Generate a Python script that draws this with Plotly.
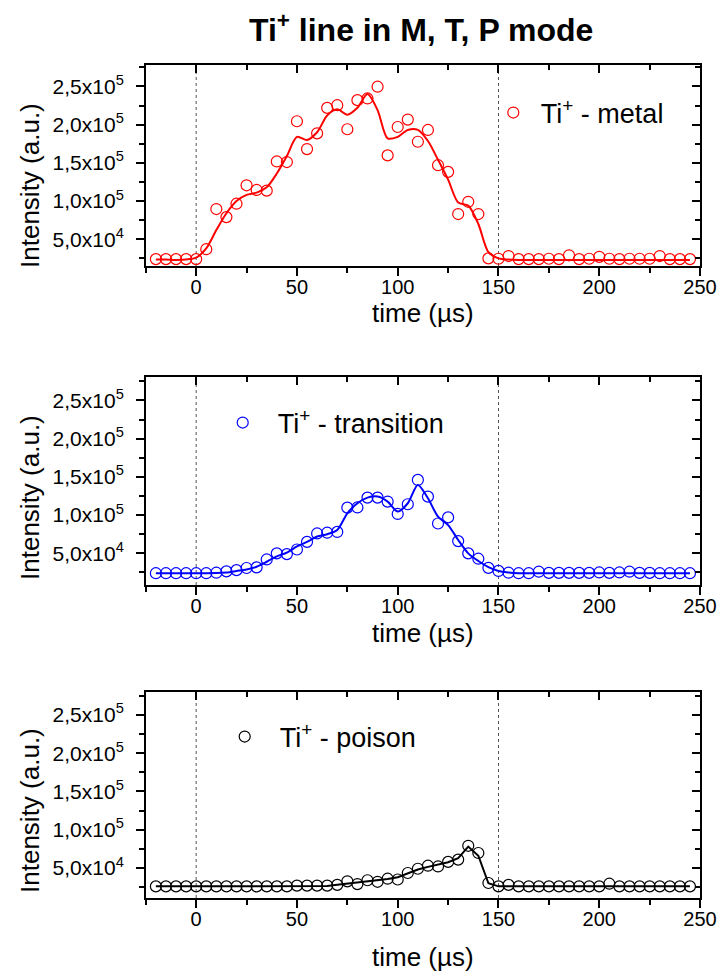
import plotly.graph_objects as go

# ---------------- data ----------------
time_us = [-20, -15, -10, -5, 0, 5, 10, 15, 20, 25, 30, 35, 40, 45, 50, 55, 60, 65, 70, 75,
           80, 85, 90, 95, 100, 105, 110, 115, 120, 125, 130, 135, 140, 145, 150, 155, 160,
           165, 170, 175, 180, 185, 190, 195, 200, 205, 210, 215, 220, 225, 230, 235, 240, 245]

metal = [24000, 24000, 24000, 24000, 24000, 37000, 89500, 79000, 96500, 120600,
         114500, 113600, 151800, 151000, 204400, 168000, 188600, 221900, 225400, 193900,
         232000, 234200, 249600, 159700, 196900, 206600, 177600, 193000, 146900, 138200,
         83000, 99000, 83000, 25000, 24500, 28000, 24000, 24000, 24000, 24500,
         24000, 29000, 24000, 24500, 27000, 24500, 24000, 24500, 24500, 24500,
         28000, 24000, 24000, 24000]
metal_fit = [23500, 23500, 23000, 23500, 26000, 38000, 62000, 84000, 100000, 108000,
             111000, 118000, 136000, 159000, 184000, 180000, 190000, 212000, 220000, 213000,
             222000, 240000, 219000, 182000, 184000, 193000, 193000, 178500, 154000, 128000,
             98000, 94000, 70000, 33000, 25000, 23500, 23000, 23000, 23000, 23000,
             23000, 23000, 23000, 23000, 23000, 23000, 23000, 23000, 23000, 23000,
             23000, 23000, 23000, 23000]

transition = [24000, 24000, 24000, 24000, 24000, 24000, 24700, 26400, 28000, 30800,
              31700, 42000, 50000, 49000, 55000, 65000, 76000, 77000, 78000, 109800,
              110000, 122900, 122900, 117700, 101500, 114200, 146000, 124200, 89000, 97000,
              66000, 50000, 43000, 31000, 27000, 24700, 24000, 24000, 26000, 24500,
              24500, 24500, 24500, 24500, 25000, 24500, 25000, 26000, 24500, 24500,
              24000, 24000, 24000, 24000]
transition_fit = [24000, 24000, 24000, 24000, 24000, 24000, 24200, 25000, 27000, 29000,
                  32500, 39000, 46000, 51000, 59000, 65000, 72000, 75000, 80500, 102400,
                  115500, 122900, 124200, 117700, 104600, 115500, 139500, 122000, 98000, 87000,
                  67500, 50000, 40000, 32000, 27000, 25000, 24000, 24000, 24000, 24000,
                  24000, 24000, 24000, 24000, 24000, 24000, 24000, 24000, 24000, 24000,
                  24000, 24000, 24000, 24000]

poison = [26000, 26000, 26000, 26000, 26000, 26000, 26000, 26000, 26000, 26000,
          26000, 26000, 26000, 26000, 27000, 27000, 27000, 27000, 28000, 32600,
          29000, 34000, 32000, 36000, 35000, 43500, 49000, 53000, 52000, 58000,
          61000, 79000, 69600, 30400, 26000, 28000, 26000, 26000, 26000, 26000,
          26000, 26000, 26000, 26000, 26000, 29500, 26000, 26000, 26000, 26000,
          26000, 26000, 26000, 26000]
poison_fit = [26000, 26000, 26000, 26000, 26000, 26000, 26000, 26000, 26000, 26000,
              26000, 26000, 26000, 26000, 26000, 26000, 26000, 26500, 28000, 29500,
              31000, 32500, 33500, 35500, 38000, 43000, 48000, 51500, 54000, 57500,
              63000, 78000, 66000, 30000, 26000, 26000, 26000, 26000, 26000, 26000,
              26000, 26000, 26000, 26000, 26000, 26000, 26000, 26000, 26000, 26000,
              26000, 26000, 26000, 26000]

series_names = ["Ti<sup>+</sup> - metal", "Ti<sup>+</sup> - transition", "Ti<sup>+</sup> - poison"]
series_colors = ["#ff0000", "#0000ff", "#000000"]
pulse_edges = [0, 150]

y_tickvals = [50000, 100000, 150000, 200000, 250000]
y_ticktext = ["5,0x10<sup>4</sup>", "1,0x10<sup>5</sup>", "1,5x10<sup>5</sup>",
              "2,0x10<sup>5</sup>", "2,5x10<sup>5</sup>"]
x_range = [-25, 250]
y_ranges = [[15000, 278000], [8600, 280600], [10800, 280000]]

title_text = "<b>Ti<sup>+</sup> line in M, T, P mode</b>"
x_title = "time (µs)"
y_title = "Intensity (a.u.)"

# ---------------- layout geometry (reference pixels) ----------------
REF_W, H = 721, 979
W = 737          # page is photographed slightly wider than the window and squeezed to 721
px_left, px_right = 146, 701
panels_px = [(65, 266), (377, 585), (692, 898)]      # (top, bottom)
legend_px = [(494, 113), (223, 423), (225, 737)]      # (left, center y)
legend_gap = [1, 2, 2]                                # spacer characters before legend text
xtitle_py = [313, 633, 957]
ytitle_py = [185, 497, 810]

FONT = "Liberation Sans, Arial, sans-serif"

def px2paper(p):
    return p / REF_W

def py2paper(p):
    return 1 - p / H

fig = go.Figure()
layout = dict(width=W, height=H, autosize=False, margin=dict(l=0, r=0, t=0, b=0, pad=0),
              paper_bgcolor="white", plot_bgcolor="white", showlegend=True,
              font=dict(family=FONT, color="black"))

pts = [metal, transition, poison]
fits = [metal_fit, transition_fit, poison_fit]
shapes_list = ["spline", "spline", "linear"]
shapes = []
annotations = []

xdom = [px2paper(px_left), px2paper(px_right)]
for i in range(3):
    a = i + 1
    b = i + 4
    xa = "x" if a == 1 else f"x{a}"
    ya = "y" if a == 1 else f"y{a}"
    xb, yb = f"x{b}", f"y{b}"
    top, bot = panels_px[i]
    ydom = [py2paper(bot), py2paper(top)]
    leg = "legend" if a == 1 else f"legend{a}"

    fig.add_trace(go.Scatter(x=time_us, y=fits[i], mode="lines", xaxis=xa, yaxis=ya,
                             line=dict(color=series_colors[i], width=2, shape=shapes_list[i], smoothing=0.8),
                             showlegend=False, hoverinfo="skip"))
    fig.add_trace(go.Scatter(x=time_us, y=pts[i], mode="markers", xaxis=xa, yaxis=ya,
                             name="\u00a0" * legend_gap[i] + series_names[i], legend=leg,
                             marker=dict(symbol="circle-open", size=11, color=series_colors[i],
                                         line=dict(width=1.2, color=series_colors[i]))))
    fig.add_trace(go.Scatter(x=[], y=[], xaxis=xb, yaxis=yb, showlegend=False, hoverinfo="skip"))

    axis_common = dict(showline=True, linecolor="black", linewidth=1.6, tickcolor="black",
                       tickwidth=1.5, showgrid=False, zeroline=False)
    layout[f"xaxis{a}" if a > 1 else "xaxis"] = dict(
        domain=xdom, anchor=ya, range=x_range, tickmode="linear", tick0=0, dtick=50,
        ticks="outside", ticklen=8, ticklabelstandoff=-6, tickfont=dict(size=20, family=FONT),
        minor=dict(tickmode="linear", tick0=0, dtick=25, ticks="outside", ticklen=5,
                   tickwidth=1.5, tickcolor="black"),
        **axis_common)
    layout[f"yaxis{a}" if a > 1 else "yaxis"] = dict(
        domain=ydom, anchor=xa, range=y_ranges[i], tickmode="array", tickvals=y_tickvals,
        ticktext=y_ticktext, ticks="outside", ticklen=8, ticklabelstandoff=8,
        tickfont=dict(size=21, family=FONT),
        minor=dict(tickmode="linear", tick0=0, dtick=25000, ticks="outside", ticklen=5,
                   tickwidth=1.5, tickcolor="black"),
        **axis_common)
    layout[f"xaxis{b}"] = dict(
        overlaying=xa, anchor=yb, side="top", range=x_range, tickmode="linear", tick0=0,
        dtick=50, ticks="inside", ticklen=8, showticklabels=False,
        minor=dict(tickmode="linear", tick0=0, dtick=25, ticks="inside", ticklen=5,
                   tickwidth=1.5, tickcolor="black"),
        **axis_common)
    layout[f"yaxis{b}"] = dict(
        overlaying=ya, anchor=xb, side="right", range=y_ranges[i], tickmode="array",
        tickvals=y_tickvals, ticks="inside", ticklen=8, showticklabels=False,
        minor=dict(tickmode="linear", tick0=0, dtick=25000, ticks="inside", ticklen=5,
                   tickwidth=1.5, tickcolor="black"),
        **axis_common)

    for e in pulse_edges:
        shapes.append(dict(type="line", xref=xa, yref=f"{ya} domain", x0=e, x1=e, y0=0, y1=1,
                           line=dict(color="#555555", width=1, dash="3px,3px"), layer="below"))

    lx, ly = legend_px[i]
    layout[leg] = dict(x=px2paper(lx), y=py2paper(ly), xanchor="left", yanchor="middle",
                       bgcolor="rgba(0,0,0,0)", borderwidth=0,
                       font=dict(size=27, family=FONT, color="black"))

    annotations.append(dict(text=x_title, xref="paper", yref="paper",
                            x=px2paper((px_left + px_right) / 2), y=py2paper(xtitle_py[i]),
                            xanchor="center", yanchor="middle", showarrow=False,
                            font=dict(size=26, family=FONT, color="black")))
    annotations.append(dict(text=y_title, xref="paper", yref="paper",
                            x=px2paper(30), y=py2paper(ytitle_py[i]), textangle=-90,
                            xanchor="center", yanchor="middle", showarrow=False,
                            font=dict(size=26, family=FONT, color="black")))

annotations.append(dict(text=title_text, xref="paper", yref="paper", x=px2paper(422), y=py2paper(28),
                        xanchor="center", yanchor="middle", showarrow=False,
                        font=dict(size=32, color="black", family=FONT)))

layout["shapes"] = shapes
layout["annotations"] = annotations
fig.update_layout(**layout)
fig.write_html("out.html",
               config={"responsive": False, "displayModeBar": False},
               post_script="document.body.style.margin='0';document.body.style.padding='0';"
                           "document.body.style.overflow='hidden';"
                           "document.documentElement.style.overflow='hidden';")
